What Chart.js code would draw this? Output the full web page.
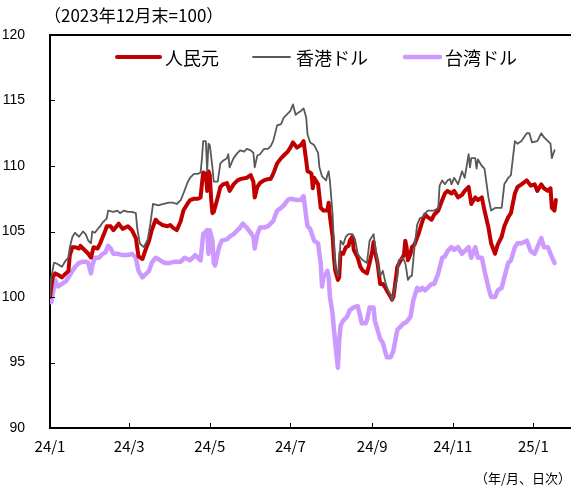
<!DOCTYPE html>
<html>
<head>
<meta charset="utf-8">
<script src="https://cdn.jsdelivr.net/npm/chart.js@4"></script>
<style>
  html, body { margin: 0; padding: 0; background: #fff; }
  #wrap { width: 571px; height: 488px; position: relative; }
</style>
</head>
<body>
<div id="wrap"><canvas id="c" width="571" height="488"></canvas></div>
<script>
// ---- data (x = days since 2024-01-01, y = index, 2023-12-end = 100) ----
const seriesNames = ['人民元', '香港ドル', '台湾ドル'];
const tickDays = [0, 60, 121, 182, 244, 305, 366];
const tickLabels = ['24/1', '24/3', '24/5', '24/7', '24/9', '24/11', '25/1'];
const yTicks = [90, 95, 100, 105, 110, 115, 120];

const cnyDays = [0,2,4,6,9,12,14,15,17,19,22,23,25,29,31,33,36,38,40,42,43,46,48,52,55,59,62,65,67,70,72,75,77,80,82,85,89,91,93,96,99,101,104,106,109,112,114,115,116,118,119,120,121,122,123,124,127,129,131,134,136,139,142,144,149,152,154,155,157,159,162,165,167,169,172,175,177,180,182,184,187,190,192,194,195,197,198,199,200,203,205,207,210,211,212,214,215,216,218,219,220,222,224,226,227,229,230,233,235,237,240,242,244,245,246,248,249,250,252,254,255,258,259,260,261,263,265,268,269,270,271,273,274,276,279,282,284,286,289,291,294,297,299,301,304,306,309,312,314,317,319,322,324,327,329,332,334,337,339,342,344,347,349,352,354,357,361,364,367,369,372,374,377,379,380,382,383];
const cnyValues = [100.0,101.5,101.8,101.7,101.5,101.8,102.0,103.2,103.8,103.8,103.7,103.9,103.7,103.3,103.0,103.8,103.7,104.1,104.6,105.1,105.4,105.4,105.1,105.6,105.2,105.4,105.1,104.5,103.1,102.9,103.5,104.3,105.1,105.9,105.7,105.5,105.4,105.5,105.3,105.1,105.8,106.6,107.1,107.4,107.5,107.5,107.6,108.6,109.5,109.4,108.1,109.6,109.3,107.5,106.4,106.5,107.6,108.4,108.6,108.7,108.1,108.6,108.9,109.0,109.1,109.3,108.8,107.6,108.4,108.7,108.9,109.0,109.0,109.4,110.2,110.6,110.8,111.1,111.4,111.8,111.4,111.6,111.9,110.4,109.6,109.5,109.4,108.3,109.1,108.6,106.8,106.6,106.6,107.2,106.1,104.6,103.0,102.0,101.3,101.5,103.4,103.3,103.8,103.9,104.3,104.6,103.6,103.0,102.3,102.0,101.8,102.6,103.5,104.2,103.5,102.6,101.8,101.0,101.0,100.7,100.5,100.0,99.8,100.0,100.7,102.3,102.7,103.2,104.3,103.8,102.8,103.3,103.8,104.0,104.8,105.8,106.3,106.1,105.9,106.3,106.6,107.4,107.9,108.1,107.9,108.1,107.6,107.8,108.1,108.4,107.1,107.6,107.4,107.6,106.6,105.3,104.1,103.3,104.0,104.6,105.4,106.1,106.4,107.9,108.4,108.6,108.9,108.5,108.6,108.1,108.6,108.3,108.1,108.3,106.8,106.6,107.4];

const hkdDays = [0,1,3,4,6,9,12,14,15,17,19,22,25,27,29,31,32,34,37,38,40,43,44,48,51,53,56,59,62,65,66,68,71,74,76,78,82,86,90,93,96,99,101,104,106,109,112,114,115,116,118,119,120,121,123,124,127,129,131,134,135,136,139,142,144,147,149,152,154,155,157,159,162,165,167,169,172,175,177,180,182,184,186,187,190,192,194,195,197,200,203,204,206,209,210,211,212,214,215,216,218,219,220,222,224,226,229,231,233,235,237,240,242,245,246,249,250,252,254,256,258,259,260,263,264,267,269,270,271,273,274,276,278,280,282,286,291,294,295,297,299,301,303,304,306,309,312,314,317,318,319,322,323,324,327,329,332,334,337,342,344,347,349,352,354,357,361,363,365,369,372,374,377,379,380,382];
const hkdValues = [100.0,101.5,102.6,102.6,102.5,102.3,102.8,103.0,103.8,104.6,104.9,104.6,105.0,104.8,104.3,104.1,105.0,104.9,105.3,105.4,105.7,106.0,106.6,106.5,106.6,106.4,106.6,106.5,106.5,106.4,105.3,104.1,103.8,104.4,105.6,107.1,107.0,107.1,107.2,107.2,107.1,107.4,107.9,108.7,109.1,109.4,109.4,109.5,110.5,111.9,111.9,109.6,111.7,111.6,109.9,108.8,108.8,110.2,110.4,110.6,110.9,109.9,110.6,111.0,111.2,111.1,111.3,111.2,111.0,109.9,110.8,110.9,111.3,111.3,111.5,111.9,113.1,113.2,113.7,114.0,114.2,114.7,113.9,114.0,114.2,114.4,113.7,112.4,111.8,111.6,111.0,109.9,109.2,108.9,109.3,109.6,108.8,106.3,104.0,102.3,101.6,102.5,104.3,104.0,104.6,104.8,104.8,104.4,103.3,103.0,102.8,102.6,104.3,104.8,104.0,102.0,101.6,102.0,101.1,100.5,100.1,99.7,100.2,101.5,102.8,103.0,102.6,102.0,101.3,101.6,101.6,103.8,105.5,106.0,106.1,106.6,106.6,106.8,108.5,108.9,108.6,108.9,109.0,108.6,109.1,108.6,109.6,109.1,110.9,109.9,110.6,110.6,109.8,110.5,110.0,109.8,107.6,106.6,106.8,106.8,108.6,109.1,109.3,111.9,111.7,111.9,112.5,112.5,111.8,111.9,112.5,112.2,111.9,111.7,110.6,111.2];

const twdDays = [0,1,3,4,6,9,12,14,17,19,22,25,27,29,31,32,34,37,40,42,44,46,48,51,55,59,62,65,67,70,72,75,77,80,82,85,87,91,95,99,102,106,110,114,116,119,120,121,123,124,125,128,130,134,136,139,142,144,146,149,152,154,155,157,159,162,165,167,169,172,175,177,180,182,187,190,192,194,195,197,200,203,204,205,206,207,209,210,211,212,214,215,216,218,219,220,222,225,227,230,233,235,236,239,240,242,245,246,248,250,252,255,258,260,263,265,268,270,273,275,278,280,282,284,285,289,291,294,297,299,301,304,306,309,312,314,317,319,322,324,327,329,332,334,337,339,342,344,347,349,352,354,357,361,364,367,369,372,374,377,379,382];
const twdValues = [99.8,99.6,100.8,101.3,100.8,101.0,101.2,101.5,102.0,102.3,102.6,102.7,102.7,102.6,101.8,102.4,103.0,103.0,103.3,103.4,103.9,103.7,103.3,103.3,103.2,103.2,103.3,103.0,102.0,101.5,101.7,102.0,102.6,103.0,102.9,102.7,102.6,102.6,102.7,102.7,103.0,102.8,103.2,102.8,104.8,105.1,103.3,105.1,104.3,102.6,102.4,103.8,104.3,104.4,104.6,104.8,105.1,105.3,105.6,105.3,104.9,104.6,103.7,104.8,105.3,105.3,105.4,105.6,105.8,106.6,106.8,107.0,107.4,107.5,107.4,107.4,107.7,106.1,105.4,105.2,104.3,104.1,103.3,102.6,100.8,101.5,101.8,102.0,101.5,100.0,98.7,97.5,96.5,94.6,96.7,97.8,98.2,98.5,99.0,99.2,99.3,98.5,98.0,98.0,98.2,99.2,99.2,98.2,97.5,96.8,96.5,95.4,95.4,95.9,97.5,97.7,98.0,98.1,98.5,99.7,100.7,100.5,100.7,100.5,100.6,101.0,101.0,101.8,103.0,103.1,103.5,103.8,103.6,103.8,103.3,103.5,103.8,103.0,103.8,103.0,103.0,102.0,100.7,100.0,100.0,100.5,100.7,101.5,102.6,102.8,103.8,104.1,104.1,104.3,103.5,103.3,103.8,104.5,103.8,103.8,103.3,102.6];

const seriesColors = ['#C00000', '#595959', '#CC99FF'];
const seriesWidths = [4, 1.8, 4.5];

function toPoints(days, values) {
  return days.map((d, i) => ({ x: d, y: values[i] }));
}

const frameAndLegend = {
  id: 'frameAndLegend',
  afterDraw(chart) {
    const ctx = chart.ctx;
    const a = chart.chartArea;
    const xs = chart.scales.x, ys = chart.scales.y;
    ctx.save();
    // top frame line
    ctx.strokeStyle = '#000';
    ctx.lineWidth = 2;
    ctx.beginPath();
    ctx.moveTo(a.left - 1, a.top);
    ctx.lineTo(a.right, a.top);
    ctx.stroke();
    // inward tick marks
    ctx.lineWidth = 1;
    ctx.beginPath();
    yTicks.forEach(v => {
      if (v === yTicks[0] || v === yTicks[yTicks.length - 1]) return;
      const py = Math.round(ys.getPixelForValue(v)) + 0.5;
      ctx.moveTo(a.left, py); ctx.lineTo(a.left + 5, py);
    });
    tickDays.forEach((d, i) => {
      if (i === 0) return;
      const px = Math.round(xs.getPixelForValue(d)) + 0.5;
      ctx.moveTo(px, a.bottom); ctx.lineTo(px, a.bottom - 5);
    });
    ctx.stroke();
    // legend (inside plot)
    const legendY = 57;
    const items = [
      { x0: 117, x1: 160, tx: 165 },
      { x0: 253, x1: 290, tx: 296 },
      { x0: 405, x1: 440, tx: 445 }
    ];
    ctx.font = '18px "Noto Sans CJK JP"';
    ctx.textBaseline = 'middle';
    ctx.textAlign = 'left';
    items.forEach((it, i) => {
      ctx.strokeStyle = seriesColors[i];
      ctx.lineWidth = seriesWidths[i];
      ctx.lineCap = 'round';
      ctx.beginPath();
      ctx.moveTo(it.x0, legendY); ctx.lineTo(it.x1, legendY);
      ctx.stroke();
      ctx.fillStyle = '#000';
      ctx.fillText(seriesNames[i], it.tx, legendY + 1);
    });
    // notes
    ctx.font = '17px "Noto Sans CJK JP"';
    ctx.fillText('（2023年12月末=100）', 44, 16);
    ctx.font = '13px "Noto Sans CJK JP"';
    ctx.textAlign = 'right';
    ctx.fillText('（年/月、日次）', 571, 478);
    ctx.restore();
  }
};

new Chart(document.getElementById('c'), {
  type: 'line',
  data: {
    datasets: [
      { label: seriesNames[0], data: toPoints(cnyDays, cnyValues), borderColor: seriesColors[0], borderWidth: seriesWidths[0], order: 1 },
      { label: seriesNames[1], data: toPoints(hkdDays, hkdValues), borderColor: seriesColors[1], borderWidth: seriesWidths[1], order: 0 },
      { label: seriesNames[2], data: toPoints(twdDays, twdValues), borderColor: seriesColors[2], borderWidth: seriesWidths[2], order: 2 }
    ]
  },
  options: {
    responsive: false,
    animation: false,
    devicePixelRatio: 1,
    layout: { padding: { top: 35, right: 0, left: 0, bottom: 0 } },
    elements: {
      line: { tension: 0, borderJoinStyle: 'round', borderCapStyle: 'round', fill: false },
      point: { radius: 0, hitRadius: 0 }
    },
    plugins: { legend: { display: false }, tooltip: { enabled: false }, title: { display: false } },
    scales: {
      x: {
        type: 'linear',
        min: 0,
        max: 394.5,
        afterFit(s) { s.height = 60; },
        afterBuildTicks(s) { s.ticks = tickDays.map(v => ({ value: v })); },
        ticks: {
          autoSkip: false,
          maxRotation: 0,
          padding: 1,
          color: '#000',
          font: { size: 15, family: '"Noto Sans CJK JP"' },
          callback(v) { const i = tickDays.indexOf(v); return i >= 0 ? tickLabels[i] : ''; }
        },
        grid: { display: false },
        border: { display: true, color: '#000', width: 2 }
      },
      y: {
        min: 90,
        max: 120,
        afterFit(s) { s.width = 50; },
        afterBuildTicks(s) { s.ticks = yTicks.map(v => ({ value: v })); },
        ticks: {
          padding: 17,
          color: '#000',
          font: { size: 14, family: '"Liberation Sans"' }
        },
        grid: { display: false },
        border: { display: true, color: '#000', width: 2 }
      }
    }
  },
  plugins: [frameAndLegend]
});
</script>
</body>
</html>
